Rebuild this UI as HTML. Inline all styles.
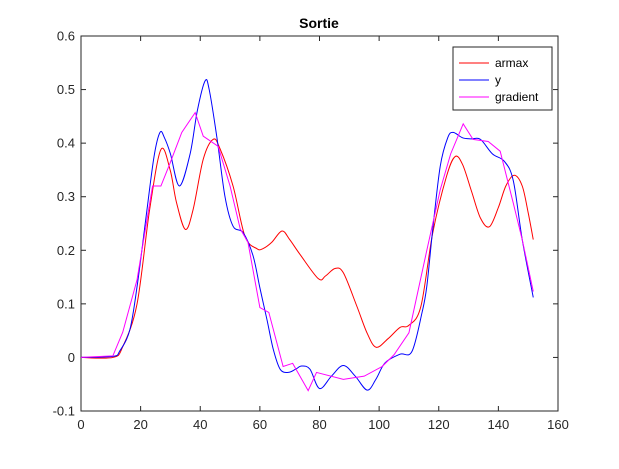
<!DOCTYPE html>
<html><head><meta charset="utf-8"><style>
body{margin:0;background:#fff;}
svg text{font-family:"Liberation Sans",sans-serif;}
</style></head><body>
<svg id="chart" width="619" height="464" viewBox="0 0 619 464" xmlns="http://www.w3.org/2000/svg">
<rect width="619" height="464" fill="#fff"/>
<text x="319" y="28" text-anchor="middle" font-size="14" font-weight="bold" fill="#000">Sortie</text>
<g id="axes"></g>
<g id="series"></g>
<g id="legend"></g>
</svg>
<script>
const xTicks=[0,20,40,60,80,100,120,140,160];
const yTicks=[-0.1,0,0.1,0.2,0.3,0.4,0.5,0.6];
const yTickLabels=["-0.1","0","0.1","0.2","0.3","0.4","0.5","0.6"];
const armaxT=[0,10.7,14,18.8,23,26.8,29.9,32,35,37.6,41,44.3,46.6,51,55,59,61,64,67.4,70,73.5,79.6,82,85.2,88,92.5,96,99,103,107,110,114,118,122.6,125.5,128,131,134,137,140,142.5,145.3,148,150,151.7];
const armaxV=[0,0,0.02,0.1,0.275,0.388,0.35,0.29,0.239,0.276,0.37,0.407,0.39,0.32,0.226,0.203,0.203,0.215,0.236,0.22,0.192,0.147,0.152,0.166,0.158,0.096,0.045,0.019,0.035,0.056,0.06,0.095,0.233,0.338,0.375,0.36,0.31,0.26,0.244,0.28,0.32,0.34,0.32,0.27,0.22];
const yT=[0,10.7,13,16.4,19,22,24.5,26.5,28,30,33,36.6,39,41.6,43,45.6,48.3,51,54.4,57.7,60,62.4,64.5,66.8,69.5,72,74,76.8,80,84,88,92,96,99,102,107,111,114.4,116,118,120.5,123,124.8,128,131,134,138,142,145,148,151.7];
const yV=[0,0.002,0.012,0.052,0.14,0.27,0.375,0.42,0.41,0.38,0.32,0.38,0.46,0.516,0.5,0.41,0.3,0.245,0.233,0.19,0.13,0.07,0.015,-0.022,-0.028,-0.022,-0.016,-0.022,-0.058,-0.035,-0.015,-0.035,-0.061,-0.04,-0.01,0.006,0.011,0.084,0.133,0.24,0.357,0.41,0.42,0.41,0.408,0.407,0.38,0.366,0.33,0.22,0.112];
const gradT=[0,10.7,14,18.8,24,26.8,29.9,33.8,38.3,41,46,50,53.4,56,60,63,67.8,71,76.2,79,88,95,101,105,110,116,120.5,124,128.2,131.5,136.6,140.6,145,148,151.7];
const gradV=[0,0.003,0.047,0.145,0.32,0.32,0.363,0.42,0.457,0.413,0.394,0.32,0.24,0.215,0.093,0.084,-0.017,-0.011,-0.062,-0.028,-0.041,-0.035,-0.017,0.005,0.046,0.2,0.313,0.38,0.436,0.407,0.403,0.385,0.288,0.22,0.123];
const X0=81,X1=558,Y0=411,Y1=36;
const sx=t=>X0+(t-0)/(160-0)*(X1-X0);
const sy=v=>Y0-(v+0.1)/(0.7)*(Y0-Y1);
const NS="http://www.w3.org/2000/svg";
function mk(tag,attrs,parent){const e=document.createElementNS(NS,tag);for(const k in attrs)e.setAttribute(k,attrs[k]);parent.appendChild(e);return e;}
const axes=document.getElementById('axes');
const frame=mk('rect',{x:X0,y:Y1,width:X1-X0,height:Y0-Y1,fill:'#fff',stroke:'#262626','stroke-width':1},axes);


xTicks.forEach(t=>{
  const x=sx(t);
  const l=mk('line',{x1:x,x2:x,y1:Y0,y2:Y0-5,stroke:'#262626'},axes);
  
  
  const l2=mk('line',{x1:x,x2:x,y1:Y1,y2:Y1+5,stroke:'#262626'},axes);
  
  
  const tx=mk('text',{x:x,y:Y0+18,'text-anchor':'middle','font-size':13,fill:'#262626'},axes);
  tx.textContent=String(t);
  
  
});
yTicks.forEach((v,i)=>{
  const y=sy(v);
  const l=mk('line',{x1:X0,x2:X0+5,y1:y,y2:y,stroke:'#262626'},axes);
  
  
  const l2=mk('line',{x1:X1,x2:X1-5,y1:y,y2:y,stroke:'#262626'},axes);
  
  
  const tx=mk('text',{x:X0-6,y:y+4.5,'text-anchor':'end','font-size':13,fill:'#262626'},axes);
  tx.textContent=yTickLabels[i];
  
  
});
function smooth(T,V){
  const p=T.map((t,i)=>[sx(t),sy(V[i])]);
  let d='M'+p[0][0]+','+p[0][1];
  for(let i=0;i<p.length-1;i++){
    const a=p[Math.max(0,i-1)],b=p[i],c=p[i+1],e=p[Math.min(p.length-1,i+2)];
    const c1=[b[0]+(c[0]-a[0])/6,b[1]+(c[1]-a[1])/6],c2=[c[0]-(e[0]-b[0])/6,c[1]-(e[1]-b[1])/6];
    d+=' C'+c1[0]+','+c1[1]+' '+c2[0]+','+c2[1]+' '+c[0]+','+c[1];
  }
  return d;
}
function linear(T,V){return T.map((t,i)=>(i?'L':'M')+sx(t)+','+sy(V[i])).join(' ');}
const S=document.getElementById('series');
const pa=mk('path',{d:smooth(armaxT,armaxV),fill:'none',stroke:'#ff0000','stroke-width':1},S);


const py=mk('path',{d:smooth(yT,yV),fill:'none',stroke:'#0000ff','stroke-width':1},S);


const pg=mk('path',{d:linear(gradT,gradV),fill:'none',stroke:'#ff00ff','stroke-width':1},S);


const L=document.getElementById('legend');
const lb=mk('rect',{x:453,y:47,width:99,height:63,fill:'#fff',stroke:'#262626','stroke-width':1},L);


[['armax','#ff0000'],['y','#0000ff'],['gradient','#ff00ff']].forEach((e,i)=>{
  const y=63+i*17;
  const ln=mk('line',{x1:459,x2:489,y1:y,y2:y,stroke:e[1]},L);
  
  
  const tx=mk('text',{x:495,y:y+4,'font-size':12,fill:'#000'},L);
  tx.textContent=e[0];
  
  
});
</script>
</body></html>
